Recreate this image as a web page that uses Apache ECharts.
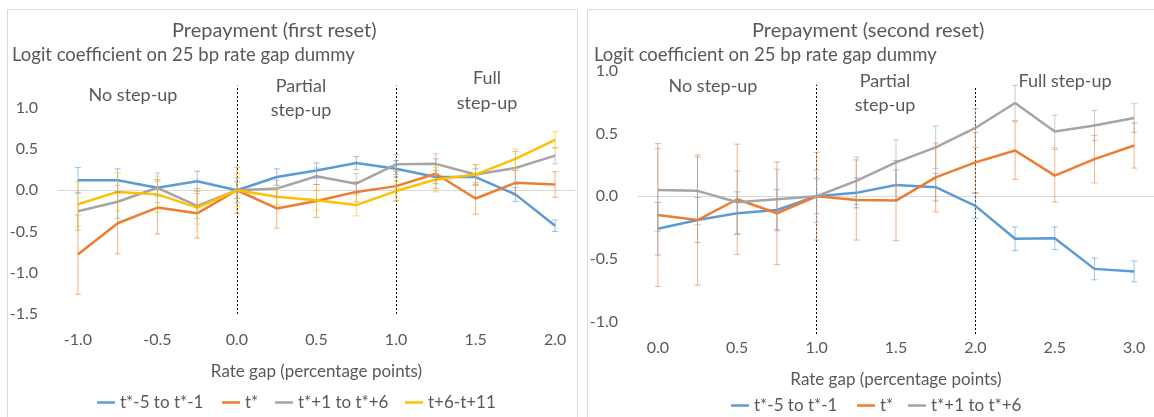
<!DOCTYPE html>
<html>
<head>
<meta charset="utf-8">
<script src="https://cdn.jsdelivr.net/npm/echarts@6/dist/echarts.min.js"></script>
<style>
  html, body { margin: 0; padding: 0; background: #fff; }
  #chart { width: 1154px; height: 417px; }
</style>
</head>
<body>
<div id="chart"></div>
<script>
// rate gap categories (percentage points)
const gapFirst = ["-1.0", "-0.75", "-0.5", "-0.25", "0.0", "0.25", "0.5", "0.75", "1.0", "1.25", "1.5", "1.75", "2.0"]
const gapSecond = ["0.0", "0.25", "0.5", "0.75", "1.0", "1.25", "1.5", "1.75", "2.0", "2.25", "2.5", "2.75", "3.0"]

const seriesNames = ["t*-5 to t*-1", "t*", "t*+1 to t*+6", "t+6-t+11"]
const colors = ["#5B9BD5", "#ED7D31", "#A5A5A5", "#FFC000"]

// first reset: coefficients and error bar half widths
const firstPre = [0.12, 0.12, 0.03, 0.11, 0, 0.16, 0.24, 0.33, 0.26, 0.16, 0.16, -0.05, -0.43]
const firstPreErr = [0.155, 0.14, 0.1, 0.12, 0.1, 0.1, 0.09, 0.08, 0.1, 0.08, 0.1, 0.085, 0.07]
const firstAt = [-0.78, -0.4, -0.21, -0.28, 0, -0.22, -0.13, -0.02, 0.05, 0.2, -0.1, 0.09, 0.07]
const firstAtErr = [0.48, 0.37, 0.32, 0.3, 0.28, 0.24, 0.2, 0.12, 0.18, 0.18, 0.19, 0.15, 0.155]
const firstPost = [-0.255, -0.14, 0.03, -0.19, 0, 0.02, 0.17, 0.08, 0.315, 0.32, 0.19, 0.27, 0.42]
const firstPostErr = [0.23, 0.2, 0.18, 0.15, 0.15, 0.1, 0.1, 0.12, 0.12, 0.12, 0.12, 0.2, 0.1]
const firstLate = [-0.17, -0.02, -0.05, -0.21, 0, -0.08, -0.12, -0.18, -0.01, 0.13, 0.19, 0.38, 0.61]
const firstLateErr = [0.27, 0.23, 0.22, 0.2, 0.2, 0.1, 0.12, 0.13, 0.12, 0.15, 0.12, 0.12, 0.1]

// second reset
const secondPre = [-0.26, -0.19, -0.135, -0.11, 0, 0.027, 0.09, 0.072, -0.077, -0.34, -0.335, -0.58, -0.6]
const secondPreErr = [0.21, 0.18, 0.17, 0.165, 0.14, 0.12, 0.12, 0.11, 0.1, 0.095, 0.09, 0.087, 0.083]
const secondAt = [-0.15, -0.19, -0.024, -0.136, 0, -0.03, -0.035, 0.15, 0.27, 0.365, 0.165, 0.296, 0.405]
const secondAtErr = [0.57, 0.52, 0.44, 0.41, 0.35, 0.32, 0.32, 0.275, 0.24, 0.23, 0.21, 0.19, 0.18]
const secondPost = [0.05, 0.043, -0.048, -0.024, 0, 0.123, 0.27, 0.39, 0.545, 0.745, 0.517, 0.565, 0.624]
const secondPostErr = [0.33, 0.27, 0.25, 0.24, 0.21, 0.19, 0.18, 0.17, 0.155, 0.14, 0.13, 0.12, 0.115]

const FONT = "Lato, 'Open Sans', sans-serif"
const TEXT = "#595959"

function halfLabel(v) {
  if (Math.abs(v * 2 - Math.round(v * 2)) > 1e-6) return ""
  if (Math.abs(v) < 1e-9) return "0.0"
  return v.toFixed(1)
}

function lineSeries(idx, name, values, color, extra) {
  return Object.assign({
    type: "line",
    name,
    xAxisIndex: idx,
    yAxisIndex: idx,
    data: values,
    symbol: "none",
    z: 3,
    lineStyle: { width: 2.5, color },
    itemStyle: { color }
  }, extra || {})
}

function errorBars(idx, values, errs, color) {
  return {
    type: "custom",
    xAxisIndex: idx,
    yAxisIndex: idx,
    silent: true,
    z: 4,
    encode: { x: 0, y: [1, 2] },
    data: values.map((v, i) => [i, v - errs[i], v + errs[i]]),
    renderItem(params, api) {
      const lo = api.coord([api.value(0), api.value(1)])
      const hi = api.coord([api.value(0), api.value(2)])
      const w = 3
      const style = { stroke: color, lineWidth: 1, opacity: 0.6 }
      return {
        type: "group",
        children: [
          { type: "line", shape: { x1: lo[0], y1: lo[1], x2: hi[0], y2: hi[1] }, style },
          { type: "line", shape: { x1: lo[0] - w, y1: lo[1], x2: lo[0] + w, y2: lo[1] }, style },
          { type: "line", shape: { x1: hi[0] - w, y1: hi[1], x2: hi[0] + w, y2: hi[1] }, style }
        ]
      }
    }
  }
}

// zero line + dotted dividers between regimes
function guides(dividers) {
  return {
    silent: true,
    symbol: "none",
    z: 1,
    label: { show: false },
    data: [
      { yAxis: 0, lineStyle: { color: "#d9d9d9", width: 1, type: "solid" } },
      ...dividers.map(d => [
        { coord: [d[0], d[1]], lineStyle: { color: "#000", width: 1, type: [2, 2] } },
        { coord: [d[0], d[2]] }
      ])
    ]
  }
}

function txt(x, y, text, size, align) {
  return {
    type: "text",
    x,
    y,
    silent: true,
    style: {
      text,
      fill: TEXT,
      font: size + "px " + FONT,
      align: align || "center",
      textAlign: align || "center",
      verticalAlign: "middle",
      textVerticalAlign: "middle"
    }
  }
}

// one legend per entry so each sits where the original puts it
function legendItem(name, left, top) {
  return {
    left, top,
    data: [name],
    icon: "rect", itemWidth: 18, itemHeight: 2.5,
    textStyle: { color: TEXT, fontSize: 17, fontFamily: FONT }
  }
}

const xAxisBase = {
  type: "category",
  boundaryGap: true,
  axisLine: { show: false },
  axisTick: { show: false },
  splitLine: { show: false },
  name: "Rate gap (percentage points)",
  nameLocation: "middle",
  nameTextStyle: { color: TEXT, fontSize: 17, fontFamily: FONT }
}

const yAxisBase = {
  type: "value",
  interval: 0.1,
  axisLine: { show: false },
  axisTick: { show: false },
  splitLine: { show: false },
  axisLabel: { color: TEXT, fontSize: 16, fontFamily: FONT, margin: 20, formatter: halfLabel }
}

const chart = echarts.init(document.getElementById("chart"), null, { renderer: "canvas" })

chart.setOption({
  animation: false,
  backgroundColor: "#fff",
  grid: [
    { left: 58, top: 83, width: 517, height: 231 },
    { left: 638, top: 71, width: 520, height: 263 }
  ],
  xAxis: [
    Object.assign({}, xAxisBase, {
      gridIndex: 0,
      data: gapFirst,
      nameGap: 49,
      axisLabel: { color: TEXT, fontSize: 16, fontFamily: FONT, interval: 1, margin: 18 }
    }),
    Object.assign({}, xAxisBase, {
      gridIndex: 1,
      data: gapSecond,
      nameGap: 37,
      axisLabel: { color: TEXT, fontSize: 16, fontFamily: FONT, interval: 1, margin: 6 }
    })
  ],
  yAxis: [
    Object.assign({}, yAxisBase, { gridIndex: 0, min: -1.5, max: 1.3 }),
    Object.assign({}, yAxisBase, { gridIndex: 1, min: -1.1, max: 1.0 })
  ],
  legend: [
    legendItem(seriesNames[0], 92, 389),
    legendItem(seriesNames[1], 217, 389),
    legendItem(seriesNames[2], 270, 389),
    legendItem(seriesNames[3], 400, 389),
    legendItem(seriesNames[0], 726, 392),
    legendItem(seriesNames[1], 852, 392),
    legendItem(seriesNames[2], 903, 392)
  ],
  graphic: [
    { type: "rect", silent: true, shape: { x: 7.5, y: 9.5, width: 570, height: 420 }, style: { fill: "none", stroke: "#d9d9d9", lineWidth: 1 } },
    { type: "rect", silent: true, shape: { x: 587.5, y: 9.5, width: 600, height: 420 }, style: { fill: "none", stroke: "#d9d9d9", lineWidth: 1 } },
    txt(172, 31, "Prepayment (first reset)", 20, "left"),
    txt(12, 55, "Logit coefficient on 25 bp rate gap dummy", 18.5, "left"),
    txt(133, 95, "No step-up", 18),
    txt(301, 86, "Partial", 18),
    txt(301, 110, "step-up", 18),
    txt(487, 78, "Full", 18),
    txt(487, 103, "step-up", 18),
    txt(752, 31, "Prepayment (second reset)", 20, "left"),
    txt(594, 55, "Logit coefficient on 25 bp rate gap dummy", 18.5, "left"),
    txt(713, 86, "No step-up", 18),
    txt(885, 81, "Partial", 18),
    txt(885, 105, "step-up", 18),
    txt(1065, 81, "Full step-up", 18)
  ],
  series: [
    lineSeries(0, seriesNames[0], firstPre, colors[0], { markLine: guides([[4, -1.5, 1.27], [8, -1.5, 1.27]]) }),
    errorBars(0, firstPre, firstPreErr, colors[0]),
    lineSeries(0, seriesNames[1], firstAt, colors[1]),
    errorBars(0, firstAt, firstAtErr, colors[1]),
    lineSeries(0, seriesNames[2], firstPost, colors[2]),
    errorBars(0, firstPost, firstPostErr, colors[2]),
    lineSeries(0, seriesNames[3], firstLate, colors[3]),
    errorBars(0, firstLate, firstLateErr, colors[3]),

    lineSeries(1, seriesNames[0], secondPre, colors[0], { markLine: guides([[4, -1.1, 0.89], [8, -1.1, 0.87]]) }),
    errorBars(1, secondPre, secondPreErr, colors[0]),
    lineSeries(1, seriesNames[1], secondAt, colors[1]),
    errorBars(1, secondAt, secondAtErr, colors[1]),
    lineSeries(1, seriesNames[2], secondPost, colors[2]),
    errorBars(1, secondPost, secondPostErr, colors[2])
  ]
})
</script>
</body>
</html>
